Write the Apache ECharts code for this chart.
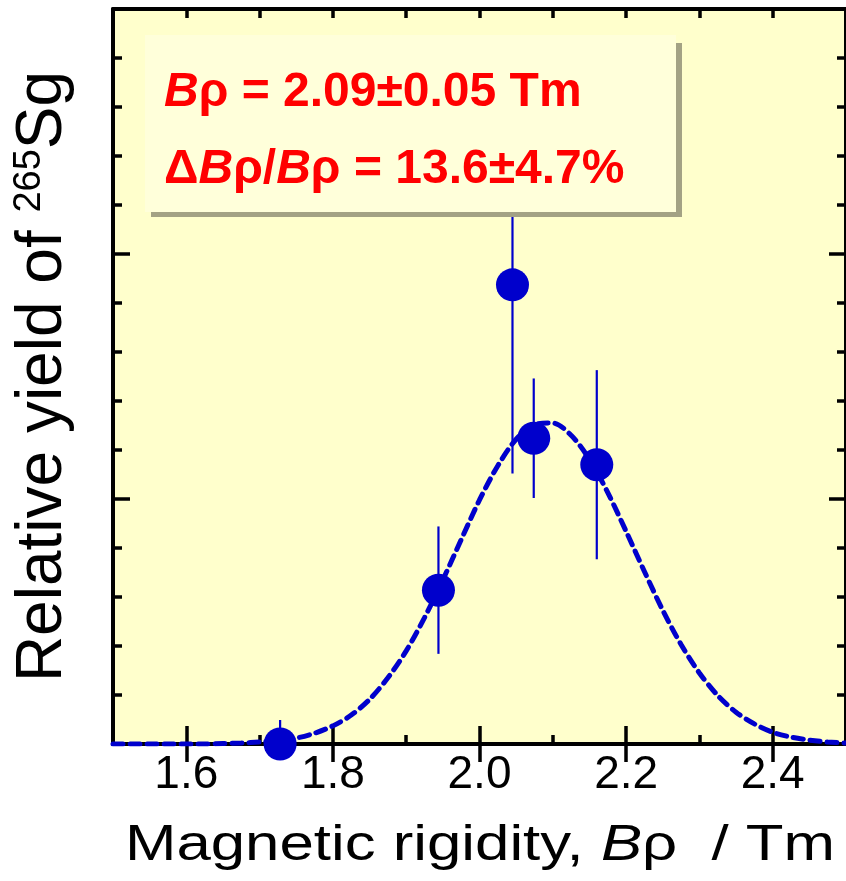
<!DOCTYPE html>
<html>
<head>
<meta charset="utf-8">
<script src="https://cdn.jsdelivr.net/npm/echarts@6/dist/echarts.min.js"></script>
<style>
  html, body { margin: 0; padding: 0; background: #fff; }
  #main { width: 846px; height: 881px; }
</style>
</head>
<body>
<div id="main"></div>
<script>
// measured points: B rho (Tm), relative yield, error
var pointX = [1.728, 1.944, 2.045, 2.074, 2.160];
var pointY = [0.00, 3.14, 9.37, 6.24, 5.70];
var pointErr = [0.49, 1.30, 3.85, 1.22, 1.93];

// gaussian fit curve
var fitX = [1.500, 1.525, 1.550, 1.575, 1.600, 1.625, 1.650, 1.675, 1.700, 1.725,
            1.750, 1.775, 1.800, 1.825, 1.850, 1.875, 1.900, 1.925, 1.950, 1.975,
            2.000, 2.025, 2.050, 2.075, 2.100, 2.125, 2.150, 2.175, 2.200, 2.225,
            2.250, 2.275, 2.300, 2.325, 2.350, 2.375, 2.400, 2.425, 2.450, 2.475, 2.500];
var fitY = [0.00, 0.00, 0.00, 0.00, 0.00, 0.00, 0.01, 0.02, 0.04, 0.07,
            0.12, 0.22, 0.37, 0.59, 0.91, 1.35, 1.90, 2.58, 3.35, 4.17,
            4.98, 5.68, 6.22, 6.52, 6.55, 6.30, 5.81, 5.13, 4.34, 3.52,
            2.73, 2.03, 1.45, 0.99, 0.65, 0.41, 0.24, 0.14, 0.08, 0.04, 0.02];

var xMajorTicks = [1.6, 1.8, 2.0, 2.2, 2.4];

var blue = '#0000CC';
var font = '"Liberation Sans", Arial, sans-serif';

var fitData = fitX.map(function (x, i) { return [x, fitY[i]]; });
var pointData = pointX.map(function (x, i) { return [x, pointY[i]]; });
var errData = pointX.map(function (x, i) { return [x, pointY[i], pointErr[i]]; });

function xAxisBase(pos) {
  return {
    type: 'value', min: 1.5, max: 2.5, interval: 0.1, position: pos,
    axisLine: { show: true, onZero: false, lineStyle: { color: '#000', width: 4 } },
    axisTick: { show: true, inside: true, length: 9, lineStyle: { color: '#000', width: 3.5 } },
    axisLabel: { show: false },
    splitLine: { show: false }
  };
}
function xAxisMajor(pos) {
  return {
    type: 'value', min: 1.5, max: 2.5, interval: 0.1, position: pos,
    axisLine: { show: false },
    axisTick: { show: true, inside: true, length: 18, customValues: xMajorTicks,
                lineStyle: { color: '#000', width: 3.5 } },
    axisLabel: { show: false },
    splitLine: { show: false }
  };
}
function yAxisBase(pos) {
  return {
    type: 'value', min: 0, max: 15, interval: 5, position: pos,
    axisLine: { show: true, onZero: false, lineStyle: { color: '#000', width: 4 } },
    axisTick: { show: true, inside: true, length: 17, lineStyle: { color: '#000', width: 3.5 } },
    minorTick: { show: true, splitNumber: 5, length: 9, lineStyle: { color: '#000', width: 3.5 } },
    axisLabel: { show: false },
    splitLine: { show: false },
    minorSplitLine: { show: false }
  };
}

var xBottom = xAxisBase('bottom');
xBottom.axisLabel = {
  show: true, customValues: xMajorTicks, margin: 8,
  fontFamily: font, fontSize: 46, color: '#000',
  formatter: function (v) { return v.toFixed(1); }
};

var yLeft = yAxisBase('left');
yLeft.name = 'Relative yield of {sup|265}Sg';
yLeft.nameLocation = 'middle';
yLeft.nameRotate = 90;
yLeft.nameGap = 38;
yLeft.nameTextStyle = {
  fontFamily: font, fontSize: 64, color: '#000',
  rich: {
    sup: { fontFamily: font, fontSize: 38, color: '#000', verticalAlign: 'top', lineHeight: 64 }
  }
};

var boxRich = {
  i: { fontFamily: font, fontSize: 48, fontWeight: 'bold', fontStyle: 'italic', fill: '#FF0000' },
  n: { fontFamily: font, fontSize: 48, fontWeight: 'bold', fill: '#FF0000' }
};

var chart = echarts.init(document.getElementById('main'));
chart.setOption({
  animation: false,
  backgroundColor: '#fff',
  grid: {
    left: 113, top: 9, width: 735, height: 735,
    show: true, backgroundColor: '#FFFFCC', borderWidth: 0
  },
  xAxis: [xBottom, xAxisMajor('bottom'), xAxisBase('top'), xAxisMajor('top')],
  yAxis: [yLeft, yAxisBase('right')],
  series: [
    {
      name: 'fit', type: 'line', data: fitData,
      smooth: 0.3, showSymbol: false, symbol: 'none', z: 2,
      lineStyle: { color: blue, width: 5, type: [10, 7], cap: 'round' }
    },
    {
      name: 'err', type: 'custom', data: errData, clip: true, z: 3,
      renderItem: function (params, api) {
        var x = api.value(0), y = api.value(1), e = api.value(2);
        var hi = api.coord([x, y + e]);
        var lo = api.coord([x, y - e]);
        return {
          type: 'line',
          shape: { x1: hi[0], y1: hi[1], x2: lo[0], y2: lo[1] },
          style: { stroke: blue, lineWidth: 2.2 }
        };
      }
    },
    {
      name: 'data', type: 'scatter', data: pointData, clip: false, z: 4,
      symbol: 'circle', symbolSize: 33,
      itemStyle: { color: blue, opacity: 1 }
    }
  ],
  graphic: [
    // result box with drop shadow
    { type: 'rect', z: 100, shape: { x: 676, y: 43, width: 6, height: 174 }, style: { fill: '#A3A284' } },
    { type: 'rect', z: 100, shape: { x: 151, y: 212, width: 531, height: 5 }, style: { fill: '#A3A284' } },
    { type: 'rect', z: 100, shape: { x: 145, y: 35, width: 531, height: 177 }, style: { fill: '#FFFFDA' } },
    {
      type: 'text', z: 101, x: 164, y: 93,
      style: {
        text: '{i|B}{n|ρ = 2.09±0.05 Tm}',
        verticalAlign: 'middle', align: 'left',
        font: 'bold 48px ' + font, fill: '#FF0000',
        rich: boxRich
      }
    },
    {
      type: 'text', z: 101, x: 164, y: 170,
      style: {
        text: '{n|Δ}{i|B}{n|ρ/}{i|B}{n|ρ = 13.6±4.7%}',
        verticalAlign: 'middle', align: 'left',
        font: 'bold 48px ' + font, fill: '#FF0000',
        rich: boxRich
      }
    },
    // x axis title
    {
      type: 'text', z: 101, x: 125, y: 846, scaleX: 1.235,
      style: {
        text: '{n|Magnetic rigidity, }{i|B}{n|ρ  / Tm}',
        verticalAlign: 'middle', align: 'left',
        font: '50px ' + font, fill: '#000',
        rich: {
          i: { fontFamily: font, fontSize: 50, fontStyle: 'italic', fill: '#000' },
          n: { fontFamily: font, fontSize: 50, fill: '#000' }
        }
      }
    }
  ]
});
</script>
</body>
</html>
